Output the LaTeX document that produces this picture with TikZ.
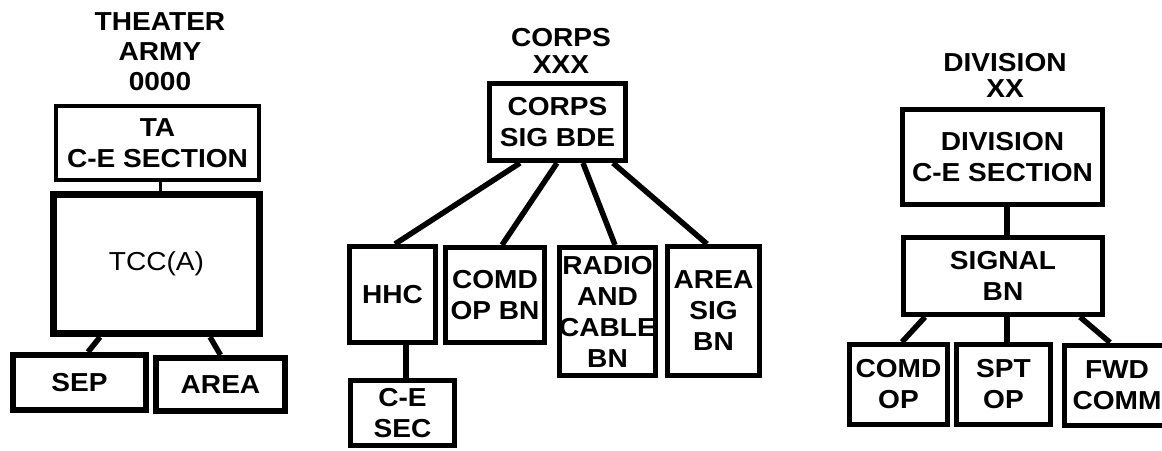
\documentclass[tikz,border=0pt]{standalone}
\usepackage{fontspec}
\setmainfont{Liberation Sans}[FakeStretch=1.08]
\begin{document}
\begin{tikzpicture}[x=1pt,y=-1pt,
  box/.style={draw, line width=5pt, inner sep=0pt, align=center, font=\bfseries\fontsize{26}{31}\selectfont},
  conn/.style={line width=5.5pt},
  thinconn/.style={line width=3pt},
  title/.style={align=center, inner sep=0pt, font=\bfseries\fontsize{26}{30}\selectfont}]
\useasboundingbox (0,0) rectangle (1162,450);
\clip (0,0) rectangle (1162,450);

% ---------- THEATER ARMY ----------
\node[title] (tatitle) at (160,52) {THEATER\\ARMY\\0000};
\node[box, line width=4pt, minimum width=203pt, minimum height=74pt] (ta) at (157.5,143) {TA\\C-E SECTION};
\node[box, line width=7pt, minimum width=206pt, minimum height=139pt, font=\fontsize{26}{31}\selectfont] (tcc) at (156.5,264) {TCC(A)};
\node[box, line width=6pt, minimum width=133pt, minimum height=55pt] (sep) at (79.5,382.5) {SEP};
\node[box, line width=6pt, minimum width=129pt, minimum height=53pt] (area) at (220.5,384.5) {AREA};
\draw[thinconn] ([xshift=2.5pt]ta.south) -- ([xshift=3.5pt]tcc.north);
\draw[conn] ([xshift=-56.5pt]tcc.south) -- ([xshift=8.5pt]sep.north);
\draw[conn] ([xshift=53.5pt]tcc.south) -- (area.north);

% ---------- CORPS ----------
\node[title, font=\bfseries\fontsize{26}{27}\selectfont] (corpstitle) at (561,50.5) {CORPS\\XXX};
\node[box, minimum width=136pt, minimum height=77pt] (bde) at (557.5,122) {CORPS\\SIG BDE};
\node[box, minimum width=86pt, minimum height=96pt] (hhc) at (392.5,294.5) {HHC};
\node[box, minimum width=99pt, minimum height=95pt] (comdbn) at (495,295) {COMD\\OP BN};
\node[box, minimum width=96pt, minimum height=128pt] (radio) at (607.5,311.5) {RADIO\\AND\\CABLE\\BN};
\node[box, minimum width=92pt, minimum height=129pt] (areasig) at (713.5,311) {AREA\\SIG\\BN};
\node[box, minimum width=104pt, minimum height=65pt] (cesec) at (402.5,413) {C-E\\SEC};
\draw[conn] ([xshift=-37.5pt]bde.south) -- ([xshift=2.5pt]hhc.north);
\draw[conn] ([xshift=-0.5pt]bde.south) -- ([xshift=7pt]comdbn.north);
\draw[conn] ([xshift=25.5pt]bde.south) -- ([xshift=7.5pt]radio.north);
\draw[conn] ([xshift=55.5pt]bde.south) -- ([xshift=-6.5pt]areasig.north);
\draw[conn] ([xshift=13.5pt]hhc.south) -- ([xshift=3.5pt]cesec.north);

% ---------- DIVISION ----------
\node[title, font=\bfseries\fontsize{26}{26}\selectfont] (divtitle) at (1005,75) {DIVISION\\XX};
\node[box, minimum width=200pt, minimum height=95pt] (divce) at (1002.5,157) {DIVISION\\C-E SECTION};
\node[box, minimum width=199pt, minimum height=77pt] (sigbn) at (1003,276) {SIGNAL\\BN};
\node[box, minimum width=98pt, minimum height=80pt] (comdop) at (898.5,384.5) {COMD\\OP};
\node[box, minimum width=94pt, minimum height=80pt] (sptop) at (1003.5,384.5) {SPT\\OP};
\node[box, minimum width=105pt, minimum height=80pt] (fwd) at (1117,385) {FWD\\COMM};
\draw[conn] ([xshift=4.5pt]divce.south) -- ([xshift=4pt]sigbn.north);
\draw[conn] ([xshift=-78pt]sigbn.south) -- ([xshift=3.5pt]comdop.north);
\draw[conn] ([xshift=4pt]sigbn.south) -- ([xshift=3.5pt]sptop.north);
\draw[conn] ([xshift=77pt]sigbn.south) -- ([xshift=-7pt]fwd.north);
\end{tikzpicture}
\end{document}
